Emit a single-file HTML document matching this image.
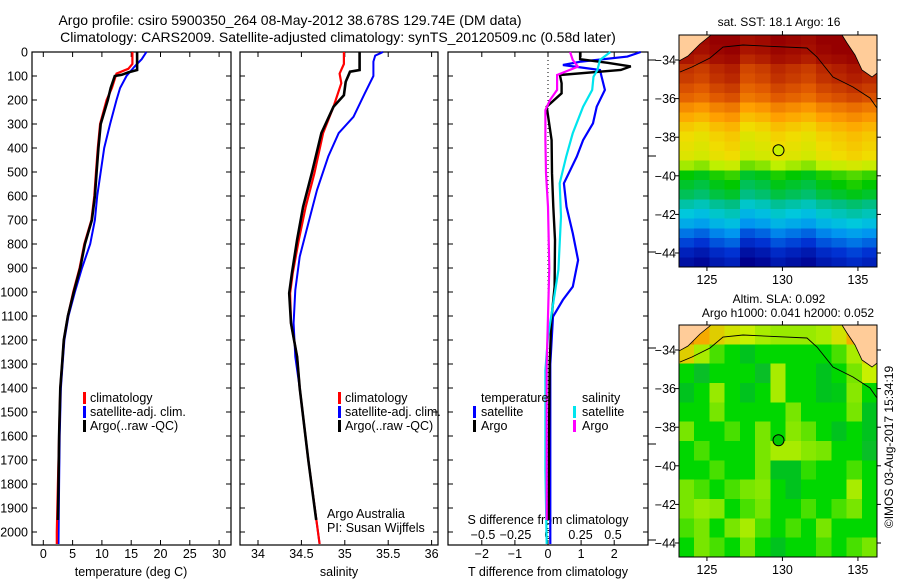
<!DOCTYPE html>
<html><head><meta charset="utf-8">
<style>
html,body{margin:0;padding:0;background:#fff;}
svg{display:block;font-family:"Liberation Sans",sans-serif;}
text{fill:#000;}
</style></head>
<body>
<svg id="fig" xmlns="http://www.w3.org/2000/svg" width="900" height="580" viewBox="0 0 900 580">
<rect x="0" y="0" width="900" height="580" fill="#fff"/>
<text x="290" y="25" font-size="14" text-anchor="middle">Argo profile: csiro 5900350_264 08-May-2012 38.678S 129.74E (DM data)</text>
<text x="338" y="42" font-size="14" text-anchor="middle">Climatology: CARS2009. Satellite-adjusted climatology: synTS_20120509.nc (0.58d later)</text>
<g id="maps"></g>
<g id="panels"></g>
<text x="779" y="26" font-size="12" text-anchor="middle">sat. SST: 18.1  Argo: 16</text>
<text x="779" y="303" font-size="12" text-anchor="middle">Altim. SLA: 0.092</text>
<text x="788" y="317" font-size="12" text-anchor="middle">Argo h1000: 0.041 h2000: 0.052</text>
<text x="0" y="0" font-size="12" text-anchor="middle" transform="translate(893,447) rotate(-90)">©IMOS 03-Aug-2017 15:34:19</text>
</svg>
<script>
// ---------- data ----------
const tempClimDepth=[0,50,70,90,150,200,300,400,500,600,700,800,900,1000,1100,1200,1300,1400,1600,1800,2000,2050];
const tempClim=[15.2,15.2,14.5,12.5,11.7,10.8,9.7,9.3,9.0,8.7,8.2,7.0,6.2,5.1,4.2,3.5,3.2,2.9,2.7,2.5,2.3,2.3];
const tempArgoDepth=[0,75,85,95,100,150,200,300,400,500,600,700,800,900,1000,1100,1200,1300,1400,1600,1800,1950];
const tempArgo=[16.0,16.0,14.5,13.4,12.2,11.5,11.0,9.8,9.4,9.1,8.8,8.3,7.1,6.3,5.2,4.2,3.5,3.2,2.9,2.7,2.6,2.5];
const tempSatDepth=[0,30,60,100,150,200,300,400,500,600,700,800,900,1000,1100,1200,1300,1400,1600,1800,2050];
const tempSat=[17.6,16.8,15.6,14.2,13.1,12.5,11.4,10.4,9.8,9.2,8.8,8.0,6.6,5.4,4.3,3.6,3.3,3.0,2.8,2.7,2.6];

const salClimDepth=[0,50,90,130,228,338,505,645,783,922,1005,1130,1270,1400,1700,2050];
const salClim=[34.99,34.99,34.94,34.96,34.87,34.75,34.65,34.55,34.47,34.40,34.37,34.38,34.45,34.48,34.58,34.71];
const salArgoDepth=[0,75,82,124,180,228,338,505,645,783,922,1005,1130,1270,1400,1700,1950];
const salArgo=[35.17,35.17,35.06,35.01,34.99,34.87,34.73,34.62,34.52,34.45,34.39,34.36,34.38,34.45,34.48,34.58,34.67];
const salSatDepth=[0,15,40,100,172,270,338,435,575,714,853,992,1130,1270,1400,1700,2050];
const salSat=[35.44,35.35,35.33,35.33,35.23,35.10,34.93,34.81,34.68,34.58,34.48,34.43,34.41,34.43,34.48,34.58,34.71];

const dTArgoDepth=[0,30,45,60,75,96,130,172,228,367,505,645,783,978,1117,1300,1600,1950];
const dTArgo=[0.97,0.97,1.8,2.5,2.2,0.36,0.41,0.41,-0.04,0.11,0.12,0.16,0.21,0.2,0.1,0.05,0.03,0.02];
const dTSatDepth=[0,19,40,54,75,103,158,228,297,367,436,547,645,756,867,978,1033,1103,1300,1600,2050];
const dTSat=[2.8,2.4,1.0,0.45,1.57,1.62,1.72,1.47,1.36,1.06,0.87,0.48,0.56,0.75,0.91,0.75,0.45,0.15,0.07,0.07,0.07];
const dSSatDepth=[0,33,75,103,158,228,339,436,547,686,908,1047,1186,1325,1742,2050];
const dSSat=[0.48,0.4,0.38,0.35,0.34,0.27,0.19,0.14,0.09,0.1,0.08,0.04,0,-0.02,-0.02,-0.01];
const dSArgoDepth=[0,33,61,96,158,200,242,367,505,645,900,1300,1700,1950];
const dSArgo=[0.17,0.19,0.23,0.07,0.07,0.015,-0.02,-0.02,-0.015,0,0.01,-0.01,-0.01,-0.01];

const depthTicks=[0,100,200,300,400,500,600,700,800,900,1000,1100,1200,1300,1400,1500,1600,1700,1800,1900,2000];
const tempTicks=[0,5,10,15,20,25,30];
const salTicks=[34,34.5,35,35.5,36];
const dTTicks=[-2,-1,0,1,2];
const dSTicks=[-0.5,-0.25,0,0.25,0.5];
const dSTickLabels=["−0.5","−0.25","0","0.25","0.5"];
const lonTicks=[125,130,135];
const latTicks=[-34,-36,-38,-40,-42,-44];

const sstRows=[19.9,19.8,19.6,19.3,19.2,19.0,18.8,18.4,18.1,17.8,17.6,17.5,17.4,17.0,16.4,16.2,16.0,15.6,15.3,15.0,14.6,14.3,14.0,13.8];
const sstColAnom=[0,-0.1,0.1,0.2,-0.2,-0.1,0.1,0,-0.1,0.1,0.2,0.3,0.2];
const slaGrid=[
[2.5,2,1.5,1.2,1,0.8,0.7,0.7,0.7,0.8,1.2,2,2.5],
[1.5,0.8,0.3,0,-0.3,0,0,0,0,0,0.3,0.8,1.5],
[0,-0.5,0,0,0,-0.5,0.8,0,0,-0.3,0,0.5,1],
[-0.3,0,0.7,0,-0.3,0,0.8,0,0,-0.3,-0.2,0.6,0],
[0,0,0.5,0,0,0,0,0.5,0,0,0,0.5,-0.3],
[0.5,0,0,0.3,0,0.5,0,0.6,0.4,0,-0.3,0,-0.3],
[0,0.3,0,0,0,0.5,0.8,0.8,0.6,0.5,0,0,-0.5],
[0,0,0.3,0,0,0.5,-0.3,-0.3,0.2,0,0,0.3,0],
[0.5,0.3,0,0.3,0.5,0.6,0,-0.3,0,0,0,0.8,0],
[0.5,0.7,0.6,0,0.3,0.5,0,0,0.3,0,0.3,0.5,0],
[0.3,0.5,0,0.5,0.8,0.3,0,0.3,0,0.5,0,0,0],
[0,0.5,0.3,0,0.5,0,-0.3,0,0,0.3,0,0.3,0.5]];
const argoLon=129.74, argoLat=-38.678;

// ---------- helpers ----------
const NS="http://www.w3.org/2000/svg";
function mk(tag,attrs,parent){const e=document.createElementNS(NS,tag);for(const k in attrs)e.setAttribute(k,attrs[k]);parent.appendChild(e);return e;}
const panels=document.getElementById('panels');
const maps=document.getElementById('maps');
const y0=52, ky=0.24;
const yD=d=>y0+d*ky;
const fs=12.5;

function frame(x1,x2,yt,yb,name){
  const r=mk('rect',{x:x1,y:yt,width:x2-x1,height:yb-yt,fill:'none',stroke:'#000','stroke-width':1.2},panels);
  
  
}
function depthAxis(x1,x2,labels){
  depthTicks.forEach(d=>{
    const y=yD(d);
    mk('line',{x1:x1,y1:y,x2:x1+5,y2:y,stroke:'#000'},panels);
    mk('line',{x1:x2-5,y1:y,x2:x2,y2:y,stroke:'#000'},panels);
    if(labels){const t=mk('text',{x:x1-4,y:y+4.5,'font-size':fs,'text-anchor':'end'},panels);t.textContent=d;
      
      }
  });
}
function xTicks(vals,labs,fx,yb,yt,ly){
  vals.forEach((v,i)=>{const x=fx(v);
    mk('line',{x1:x,y1:yb,x2:x,y2:yb-5,stroke:'#000'},panels);
    mk('line',{x1:x,y1:yt,x2:x,y2:yt+5,stroke:'#000'},panels);
    const t=mk('text',{x:x,y:ly,'font-size':fs,'text-anchor':'middle'},panels);t.textContent=labs[i];
    
    
  });
}
function series(depths,vals,fx,color,w,name){
  const pts=depths.map((d,i)=>fx(vals[i]).toFixed(1)+','+yD(d).toFixed(1)).join(' ');
  const p=mk('polyline',{points:pts,fill:'none',stroke:color,'stroke-width':w,'stroke-linejoin':'miter'},panels);
  
  
}
function txt(x,y,s,name,anchor){const t=mk('text',{x:x,y:y,'font-size':fs,'text-anchor':anchor||'start'},panels);t.textContent=s;
  
  return t;}
function legBar(x,y,color,name){const r=mk('rect',{x:x,y:y-10,width:3,height:12,fill:color},panels);
  
  }

const YT=y0, YB=545;
// ---------- panel 1: temperature ----------
const fxT=v=>43.3+v*5.86;
frame(32,231,YT,YB,'temperature-panel');
depthAxis(32,231,true);
xTicks(tempTicks,tempTicks.map(String),fxT,YB,YT,558);
txt(131,576,'temperature (deg C)','temperature-axis-title','middle');
series(tempSatDepth,tempSat,fxT,'#0000ff',2,'temp-satellite-line');
series(tempClimDepth,tempClim,fxT,'#ff0000',2.2,'temp-climatology-line');
series(tempArgoDepth,tempArgo,fxT,'#000',2.6,'temp-argo-line');
legBar(83,402,'#ff0000','legend-climatology-swatch');txt(90,402,'climatology','legend-climatology');
legBar(83,416,'#0000ff','legend-satellite-swatch');txt(90,416,'satellite-adj. clim.','legend-satellite');
legBar(83,430,'#000','legend-argo-swatch');txt(90,430,'Argo(..raw -QC)','legend-argo');

// ---------- panel 2: salinity ----------
const fxS=v=>258+(v-34)*86.8;
frame(240,438,YT,YB,'salinity-panel');
depthAxis(240,438,false);
xTicks(salTicks,salTicks.map(String),fxS,YB,YT,558);
txt(339,576,'salinity','salinity-axis-title','middle');
series(salSatDepth,salSat,fxS,'#0000ff',2,'sal-satellite-line');
series(salClimDepth,salClim,fxS,'#ff0000',2.2,'sal-climatology-line');
series(salArgoDepth,salArgo,fxS,'#000',2.6,'sal-argo-line');
legBar(338,402,'#ff0000','legend2-climatology-swatch');txt(345,402,'climatology','legend2-climatology');
legBar(338,416,'#0000ff','legend2-satellite-swatch');txt(345,416,'satellite-adj. clim.','legend2-satellite');
legBar(338,430,'#000','legend2-argo-swatch');txt(345,430,'Argo(..raw -QC)','legend2-argo');
txt(327,518,'Argo Australia','argo-australia-label');
txt(327,532,'PI: Susan Wijffels','pi-label');

// ---------- panel 3: differences ----------
const fxDT=v=>548+v*33.1;
const fxDS=v=>548+v*130;
frame(448,648,YT,YB,'difference-panel');
depthAxis(448,648,false);
depthTicks.forEach(d=>{if(d%400===0||d===0)mk('line',{x1:648,y1:yD(d)+8,x2:656,y2:yD(d)+8,stroke:'#000'},panels);});
xTicks(dTTicks,dTTicks.map(v=>v<0?'−'+(-v):String(v)),fxDT,YB,YT,558);
mk('line',{x1:548,y1:YT,x2:548,y2:YB,stroke:'#000','stroke-dasharray':'1,3'},panels);
txt(548,576,'T difference from climatology','t-diff-axis-title','middle');
txt(548,524,'S difference from climatology','s-diff-axis-title','middle');
dSTicks.forEach((v,i)=>txt(fxDS(v),539,dSTickLabels[i],'s-tick-label','middle'));
series(dTSatDepth,dTSat,fxDT,'#0000ff',2.2,'tdiff-satellite-line');
series(dTArgoDepth,dTArgo,fxDT,'#000',2.4,'tdiff-argo-line');
series(dSSatDepth,dSSat,fxDS,'#00e5ee',2.2,'sdiff-satellite-line');
series(dSArgoDepth,dSArgo,fxDS,'#ff00ff',2.2,'sdiff-argo-line');
txt(481,402,'temperature','legend3-temperature-heading');
legBar(473,416,'#0000ff','legend3-tsat-swatch');txt(481,416,'satellite','legend3-tsat');
legBar(473,430,'#000','legend3-targo-swatch');txt(481,430,'Argo','legend3-targo');
txt(582,402,'salinity','legend3-salinity-heading');
legBar(573,416,'#00e5ee','legend3-ssat-swatch');txt(582,416,'satellite','legend3-ssat');
legBar(573,430,'#ff00ff','legend3-sargo-swatch');txt(582,430,'Argo','legend3-sargo');

// ---------- maps ----------
const MX1=679,MX2=877,lon0=123.15,kx=15.1,lat0=-32.7,kl=19.3;
const fxLon=l=>MX1+(l-lon0)*kx;
function lerpCol(stops,v){
  if(v<=stops[0][0])return stops[0][1];
  for(let i=1;i<stops.length;i++){if(v<=stops[i][0]){const a=stops[i-1],b=stops[i],t=(v-a[0])/(b[0]-a[0]);
    return a[1].map((c,j)=>Math.round(c+(b[1][j]-c)*t));}}
  return stops[stops.length-1][1];
}
const sstStops=[[13.6,[0,0,140]],[14.2,[0,50,210]],[14.8,[0,150,240]],[15.3,[0,200,220]],[15.8,[0,190,130]],[16.4,[0,200,0]],[17.1,[190,240,0]],[17.6,[240,220,0]],[18.2,[255,160,0]],[18.9,[225,90,0]],[19.6,[170,20,0]],[20,[150,0,0]]];
const slaStops=[[-1,[30,180,60]],[-0.3,[0,195,30]],[0,[0,215,0]],[0.5,[120,230,0]],[1,[200,240,0]],[2,[245,170,0]],[3,[215,100,0]]];
const land='#ffcc99';
function drawMap(top,which){
  const bot=top+232;
  const g=mk('g',{'shape-rendering':'crispEdges'},maps);
  
  
  const mapTop=top;
  if(which==='sst'){
    const ch=(bot-mapTop)/sstRows.length, cw=(MX2-MX1)/sstColAnom.length;
    sstRows.forEach((rv,r)=>sstColAnom.forEach((ca,c)=>{
      const col=lerpCol(sstStops,rv+ca);
      const cell=mk('rect',{x:MX1+c*cw,y:mapTop+r*ch,width:cw+0.6,height:ch+0.6,fill:'rgb('+col.join(',')+')'},g);
      
      
    }));
  } else {
    const ch=(bot-mapTop)/slaGrid.length, cw=(MX2-MX1)/slaGrid[0].length;
    slaGrid.forEach((row,r)=>row.forEach((v,c)=>{
      const col=lerpCol(slaStops,v);
      const cell=mk('rect',{x:MX1+c*cw,y:mapTop+r*ch,width:cw+0.6,height:ch+0.6,fill:'rgb('+col.join(',')+')'},g);
      
      
    }));
  }
  const o=top-35;
  const l1=mk('polygon',{points:`679,${35+o} 711,${35+o} 700,${44+o} 688,${56+o} 679,${61+o}`,fill:land,stroke:'#000','stroke-width':0.8},maps);
  
  
  const l2=mk('polygon',{points:`842,${35+o} 877,${35+o} 877,${73+o} 872,${77+o} 862,${70+o} 855,${55+o} 847,${43+o}`,fill:land,stroke:'#000','stroke-width':0.8},maps);
  
  
  const c=mk('polyline',{points:[[680,72],[692,67],[710,58],[723,47],[743,45],[807,48],[817,57],[833,77],[853,87],[870,98],[877,108]].map(p=>p[0]+','+(p[1]+o)).join(' '),fill:'none',stroke:'#000','stroke-width':0.9},maps);
  
  
  const fr=mk('rect',{x:MX1,y:top,width:MX2-MX1,height:bot-top,fill:'none',stroke:'#000','stroke-width':1},maps);
  
  
  const latY=lat=>top+25+(-34-lat)*kl;
  latTicks.forEach(lat=>{const y=latY(lat);
    mk('line',{x1:MX1-4,y1:y,x2:MX1,y2:y,stroke:'#000'},maps);
    mk('line',{x1:MX2,y1:y,x2:MX2+4,y2:y,stroke:'#000'},maps);
    const t=mk('text',{x:MX1-3,y:y+4.5,'font-size':fs,'text-anchor':'end'},maps);t.textContent='−'+(-lat);
    
    });
  lonTicks.forEach(l=>{const x=fxLon(l);
    mk('line',{x1:x,y1:top-4,x2:x,y2:top,stroke:'#000'},maps);
    mk('line',{x1:x,y1:bot,x2:x,y2:bot+4,stroke:'#000'},maps);
    const t=mk('text',{x:x,y:bot+17,'font-size':fs,'text-anchor':'middle'},maps);t.textContent=l;
    
    });
  const mk1=mk('circle',{cx:fxLon(argoLon),cy:latY(argoLat),r:5.5,fill:which==='sst'?'#c8f000':'#00c800',stroke:'#000','stroke-width':1},maps);
  
  
}
drawMap(35,'sst');
drawMap(325,'sla');
</script>
</body></html>
